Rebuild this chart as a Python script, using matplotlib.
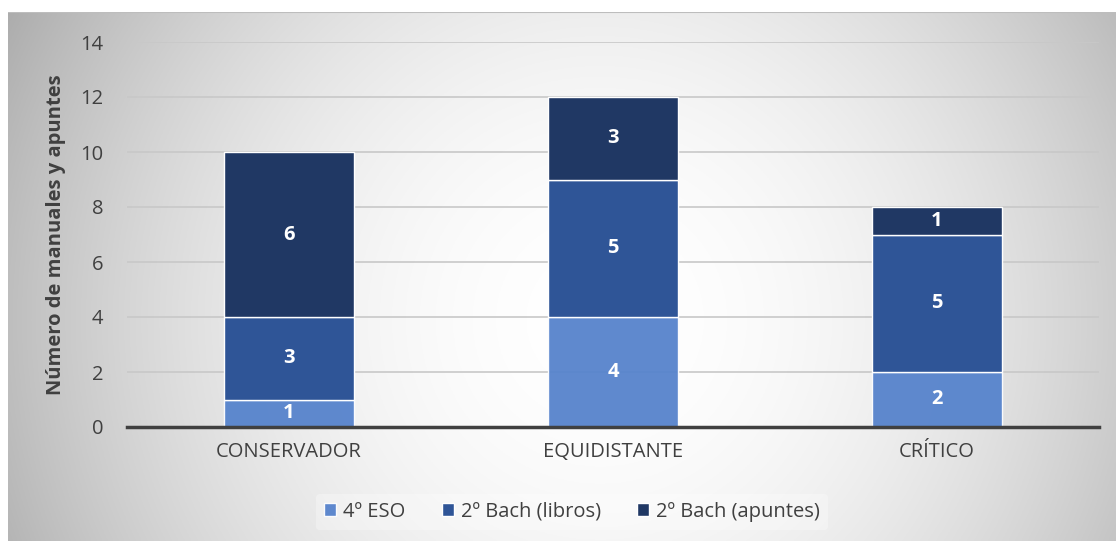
"""Stacked bar chart: manuales y apuntes por enfoque."""

import matplotlib

matplotlib.use("Agg")
import matplotlib.pyplot as plt
import numpy as np

plt.rcParams["font.family"] = ["Open Sans", "DejaVu Sans"]

categories = ["CONSERVADOR", "EQUIDISTANTE", "CRÍTICO"]
series_names = ["4º ESO", "2º Bach (libros)", "2º Bach (apuntes)"]
eso = [1, 4, 2]
bach_libros = [3, 5, 5]
bach_apuntes = [6, 3, 1]
y_ticks = [0, 2, 4, 6, 8, 10, 12, 14]

COLORS = ["#5683CC", "#2F5597", "#203864"]
TEXT = "#404040"
FS = 14.5

W, H = 1116, 541
fig = plt.figure(figsize=(W / 100, H / 100), dpi=100)
fig.patch.set_facecolor("white")

# radial gradient background of the chart area
bg = fig.add_axes([8 / W, 0, 1 - 8 / W, (H - 12) / H])
xs = np.linspace(8, W, 600)
ys = np.linspace(12, H, 300)
gx, gy = np.meshgrid(xs, ys)
d = np.sqrt((gx - 600) ** 2 + (gy - 320) ** 2) / 560
shade = 255 - 58 * np.clip(d, 0, 1.2) ** 2
img = np.dstack([shade, shade, shade]) / 255
bg.imshow(img, aspect="auto", extent=[0, 1, 0, 1], origin="upper")
bg.axhline(1, color="#bdbdbd", lw=1.5)
bg.set_axis_off()

ax = fig.add_axes([127 / W, 1 - 427 / H, (1099 - 127) / W, (427 - 42) / H])
ax.set_facecolor("none")

x = np.arange(len(categories))
width = 0.4
bottom = np.zeros(len(categories))
for values, color, name, alpha in zip(
    [eso, bach_libros, bach_apuntes], COLORS, series_names, [0.95, 1, 1]
):
    ax.bar(x, values, width, bottom=bottom, color=color, alpha=alpha,
           edgecolor="white", linewidth=1, label=name, zorder=2)
    for xi, v, b in zip(x, values, bottom):
        ax.text(xi, b + v / 2, str(v), ha="center", va="center", color="white",
                fontsize=FS, fontweight="bold", zorder=4)
    bottom += np.array(values)

ax.set_xlim(-0.5, 2.5)
ax.set_ylim(0, 14)
ax.set_yticks(y_ticks)
ax.set_xticks(x)
ax.set_xticklabels(categories)
ax.yaxis.grid(True, color="#c8c8c8", lw=1.2, zorder=1)
ax.set_axisbelow(True)
for sp in ["top", "right", "left"]:
    ax.spines[sp].set_visible(False)
ax.spines["bottom"].set_color("#404040")
ax.spines["bottom"].set_linewidth(2.5)
ax.spines["bottom"].set_zorder(5)
ax.tick_params(axis="both", length=0, colors=TEXT, labelsize=FS)
ax.tick_params(axis="y", pad=17)
ax.tick_params(axis="x", pad=11)

ax.set_ylabel("Número de manuales y apuntes", fontsize=FS, fontweight="bold",
              color=TEXT, labelpad=10)

leg = ax.legend(loc="center", bbox_to_anchor=(0.458, -0.22), ncol=3, frameon=True,
                fontsize=FS, handlelength=0.6, handleheight=0.6,
                columnspacing=1.8, handletextpad=0.35, borderpad=0.4)
leg.get_frame().set_facecolor("white")
leg.get_frame().set_alpha(0.3)
leg.get_frame().set_edgecolor("none")
for t in leg.get_texts():
    t.set_color(TEXT)

fig.savefig("out.png", dpi=100)
